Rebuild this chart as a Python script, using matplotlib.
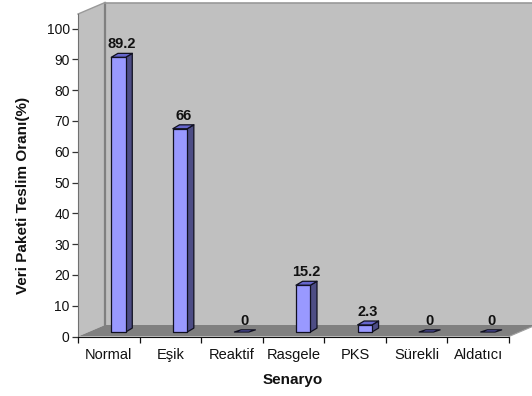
import matplotlib
matplotlib.use("Agg")
import matplotlib.pyplot as plt
from matplotlib.patches import Polygon

plt.rcParams['font.family'] = ['Liberation Sans', 'DejaVu Sans']

categories = ['Normal', 'Eşik', 'Reaktif', 'Rasgele', 'PKS', 'Sürekli', 'Aldatıcı']
values = [89.2, 66, 0, 15.2, 2.3, 0, 0]
value_labels = ['89.2', '66', '0', '15.2', '2.3', '0', '0']
y_ticks = [0, 10, 20, 30, 40, 50, 60, 70, 80, 90, 100]

W, H = 532, 396
fig = plt.figure(figsize=(W / 100, H / 100), dpi=100, facecolor='white')
ax = fig.add_axes([78 / W, (H - 336.5) / H, 431 / W, 308 / H])
ax.set_xlim(0, 7)
ax.set_ylim(0, 100)

# depth of the fake 3d box, in data units
dx = 27 / 61.6
dy = 11.5 / 3.08
y_top = 104.7
x_far = 7.6


def poly(pts, fc, ec='none', lw=0, z=1):
    ax.add_patch(Polygon(pts, closed=True, facecolor=fc, edgecolor=ec, linewidth=lw,
                         zorder=z, clip_on=False, joinstyle='round'))


# walls and floor
poly([(dx, dy), (x_far, dy), (x_far, y_top + dy), (dx, y_top + dy)], '#c0c0c0')
poly([(0, 0), (dx, dy), (dx, y_top + dy), (0, y_top)], '#c0c0c0')
poly([(0, 0), (7, 0), (7 + dx, dy), (dx, dy)], '#808080')
ax.plot([dx, dx], [dy, y_top + dy], color='#808080', lw=1.6, clip_on=False, zorder=2)
ax.plot([dx, x_far], [y_top + dy, y_top + dy], color='#999999', lw=1.2, clip_on=False, zorder=2)
ax.plot([0, dx], [y_top, y_top + dy], color='#999999', lw=1.0, clip_on=False, zorder=2)
ax.plot([7, 7 + dx], [0, dy], color='#a0a0a0', lw=0.8, clip_on=False, zorder=2)

# bars
bar_w = 14.4 / 61.6
side_x = 6.6 / 61.6
side_y = 3.9 / 3.08
base = 1.46
for i, v in enumerate(values):
    x0 = i + 33.3 / 61.6
    x1 = x0 + bar_w
    top = base + v
    rise = side_y if v > 0 else side_y * 0.55
    edge = dict(ec='#101020', lw=0.9, z=3)
    if v > 0:
        poly([(x1, base), (x1 + side_x, base + rise), (x1 + side_x, top + rise), (x1, top)],
             '#4d4d85', **edge)
        poly([(x0, base), (x1, base), (x1, top), (x0, top)], '#9999ff', **edge)
    poly([(x0, top), (x1, top), (x1 + side_x, top + rise), (x0 + side_x, top + rise)],
         '#6666cc', **edge)
    ax.annotate(value_labels[i], (x0 + bar_w / 2 + side_x / 2, top + rise),
                xytext=(0, 1.5), textcoords='offset points', ha='center', va='bottom',
                fontsize=10.5, fontweight='bold', color='#111111', zorder=5,
                annotation_clip=False)

for s in ['top', 'right']:
    ax.spines[s].set_visible(False)
ax.spines['bottom'].set_color('#111111')
ax.spines['bottom'].set_zorder(4)
ax.spines['left'].set_color('#707070')
ax.spines['left'].set_bounds(0, y_top)
ax.patch.set_visible(False)

ax.set_yticks(y_ticks)
ax.set_xticks(range(8))
ax.set_xticklabels([])
ax.set_xticks([i + 0.5 for i in range(7)], labels=categories, minor=True)
ax.tick_params(axis='y', length=4, width=0.9, color='#333333', labelsize=10, pad=2, labelcolor='#111111')
ax.tick_params(axis='x', which='major', length=4, width=0.9, color='#111111')
ax.tick_params(axis='x', which='minor', length=0, labelsize=10.5, pad=8, labelcolor='#111111')

fig.text(23 / W, 1 - 195 / H, 'Veri Paketi Teslim Oranı(%)', rotation=90, ha='center', va='center',
         fontsize=11, fontweight='bold', color='#111111')
fig.text(293 / W, 1 - 380 / H, 'Senaryo', ha='center', va='center',
         fontsize=11, fontweight='bold', color='#111111')

fig.savefig('out.png', dpi=100)
